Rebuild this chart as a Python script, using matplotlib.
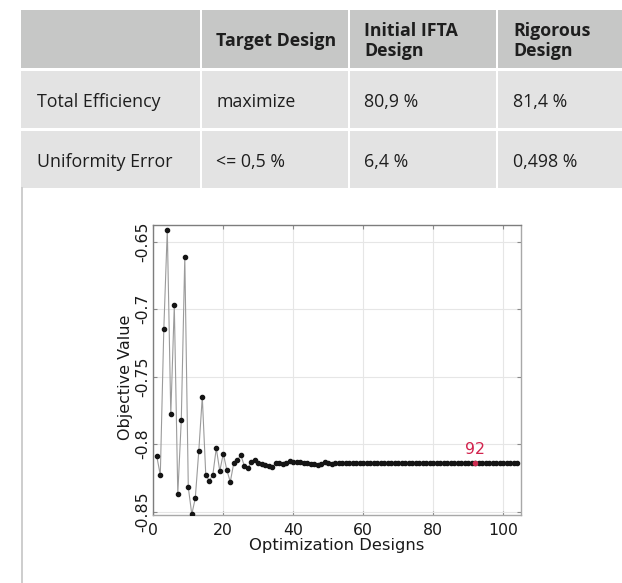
import matplotlib
matplotlib.use("Agg")
import matplotlib.pyplot as plt
from matplotlib.patches import Rectangle
from matplotlib.lines import Line2D

plt.rcParams['axes.unicode_minus'] = False

# ---------------- data ----------------
col_headers = ["", "Target Design", "Initial IFTA\nDesign", "Rigorous\nDesign"]
row_labels = ["Total Efficiency", "Uniformity Error"]
target_design = ["maximize", "<= 0,5 %"]
initial_ifta = ["80,9 %", "6,4 %"]
rigorous = ["81,4 %", "0,498 %"]

objective = [
    -0.809, -0.823, -0.715, -0.641, -0.778, -0.697, -0.837, -0.782, -0.661, -0.832,
    -0.852, -0.840, -0.805, -0.765, -0.823, -0.827, -0.823, -0.803, -0.820, -0.807,
    -0.819, -0.828, -0.814, -0.812, -0.808, -0.816, -0.818, -0.8135, -0.812, -0.8137,
    -0.815, -0.8155, -0.8165, -0.817, -0.8142, -0.8142, -0.815, -0.8137, -0.8125, -0.813,
    -0.813, -0.813, -0.8137, -0.8142, -0.8145, -0.815, -0.8155, -0.815, -0.8135, -0.814,
    -0.8148, -0.8142, -0.8142, -0.8142, -0.8142, -0.8142, -0.8142, -0.8142, -0.8142, -0.8142,
    -0.8142, -0.8142, -0.8142, -0.8142, -0.8142, -0.8142, -0.8142, -0.8142, -0.8142, -0.8142,
    -0.8142, -0.8142, -0.8142, -0.8142, -0.8142, -0.8142, -0.8142, -0.8142, -0.8142, -0.8142,
    -0.8142, -0.8142, -0.8142, -0.8142, -0.8142, -0.8142, -0.8142, -0.8142, -0.8142, -0.8142,
    -0.8142, -0.8142, -0.8142, -0.8142, -0.8142, -0.8142, -0.8142, -0.8142, -0.8142, -0.8142,
    -0.8142, -0.8142, -0.8142, -0.8142,
]
designs = list(range(1, len(objective) + 1))
highlight_design = 92

x_ticks = [0, 20, 40, 60, 80, 100]
y_ticks = [-0.85, -0.8, -0.75, -0.7, -0.65]
y_tick_labels = ["-0.85", "-0.8", "-0.75", "-0.7", "-0.65"]

# ---------------- figure ----------------
W, H = 622, 583
fig = plt.figure(figsize=(W / 100, H / 100), dpi=100)
fig.patch.set_facecolor("white")


def fx(px):
    return px / W


def fy(py):
    return 1 - py / H


def rect(x0, y0, x1, y1, color):
    fig.patches.append(Rectangle((fx(x0), fy(y1)), fx(x1) - fx(x0), fy(y0) - fy(y1),
                                 transform=fig.transFigure, facecolor=color,
                                 edgecolor="none", zorder=0))


# table layout (pixels from top-left)
col_edges = [(21, 199.5), (202, 347.5), (350, 495.5), (498, 623)]
row_edges = [(10, 68.3), (70.8, 127.7), (130.5, 188)]
text_x = [37, 216, 364, 513]
header_color = "#c6c7c6"
body_color = "#e3e3e3"
txt_color = "#1e1e1e"
table_font = "Open Sans"
fs_table = 12.8

for (c0, c1) in col_edges:
    rect(c0, row_edges[0][0], c1, row_edges[0][1], header_color)
    for (r0, r1) in row_edges[1:]:
        rect(c0, r0, c1, r1, body_color)

# header texts
for j, h in enumerate(col_headers):
    if not h:
        continue
    lines = h.split("\n")
    if len(lines) == 1:
        baselines = [46]
    else:
        baselines = [36, 56]
    for ln, b in zip(lines, baselines):
        fig.text(fx(text_x[j]), fy(b), ln, fontsize=fs_table, fontweight="bold",
                 family=table_font, color=txt_color, ha="left", va="baseline")

body_cols = [row_labels, target_design, initial_ifta, rigorous]
body_baselines = [107, 167]
for j, col in enumerate(body_cols):
    for i, val in enumerate(col):
        fig.text(fx(text_x[j]), fy(body_baselines[i]), val, fontsize=fs_table,
                 family=table_font, color=txt_color, ha="left", va="baseline")

# left frame line under the table
fig.add_artist(Line2D([fx(21.8), fx(21.8)], [fy(188), fy(583)], transform=fig.transFigure,
                      color="#c9c9c9", lw=1.3))

# ---------------- plot ----------------
ax_l, ax_r, ax_t, ax_b = 153.3, 520.7, 225, 515
ax = fig.add_axes([fx(ax_l), fy(ax_b), fx(ax_r) - fx(ax_l), fy(ax_t) - fy(ax_b)])
ax.set_xlim(0, 105)
ax.set_ylim(-0.8525, -0.6376)

ax.plot(designs, objective, color="#9b9b9b", lw=0.8, zorder=2)
ax.plot(designs, objective, linestyle="none", marker="o", ms=3.0, color="#151515", zorder=3)
hv = objective[highlight_design - 1]
ax.plot([highlight_design], [hv], linestyle="none", marker="o", ms=3.0, color="#cc2a4e", zorder=4)
ax.annotate(str(highlight_design), (highlight_design, hv), xytext=(0, 4.5),
            textcoords="offset points", ha="center", va="bottom", color="#d2234d",
            fontsize=11.3, family="DejaVu Sans")

ax.set_xticks(x_ticks)
ax.set_yticks(y_ticks)
ax.set_yticklabels(y_tick_labels, rotation=90, va="center")
ax.grid(True, color="#e6e6e6", lw=0.8)
ax.set_axisbelow(True)
ax.tick_params(direction="in", length=3, width=0.8, top=True, right=True,
               colors="#8a8a8a", labelcolor="#1a1a1a", labelsize=11.3)
ax.tick_params(axis="x", pad=6)
ax.tick_params(axis="y", pad=2)
for side in ["left", "top"]:
    ax.spines[side].set_color("#7d7d7d")
for side in ["right", "bottom"]:
    ax.spines[side].set_color("#a8a8a8")
for s in ax.spines.values():
    s.set_linewidth(1.0)

ax.set_xlabel("Optimization Designs", fontsize=11.8, color="#1a1a1a", labelpad=0)
ax.set_ylabel("Objective Value", fontsize=11.5, color="#1a1a1a")
ax.yaxis.set_label_coords((133 - ax_l) / (ax_r - ax_l), (ax_b - 377.5) / (ax_b - ax_t))

fig.savefig("out.png", dpi=100, facecolor="white")
